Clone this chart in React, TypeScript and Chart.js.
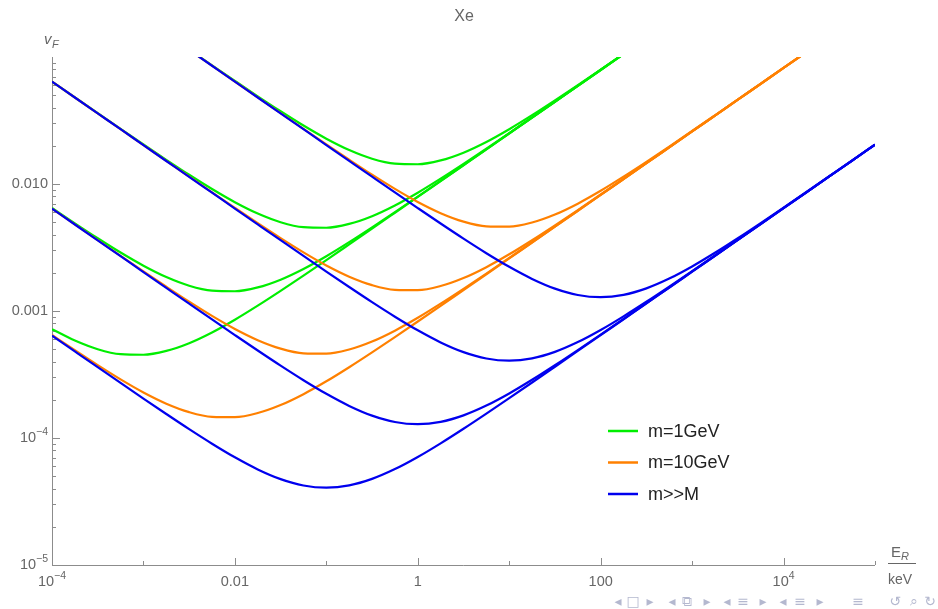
import React, { useEffect, useRef } from "react";
import { Chart, registerables } from "chart.js";

Chart.register(...registerables);

// Recoil energy E_R (keV), quarter-decade grid
const energies = [
  1e-4, 1.778e-4, 3.162e-4, 5.623e-4, 1e-3, 1.778e-3, 3.162e-3, 5.623e-3,
  0.01, 0.01778, 0.03162, 0.05623, 0.1, 0.1778, 0.3162, 0.5623,
  1, 1.778, 3.162, 5.623, 10, 17.78, 31.62, 56.23,
  100, 177.8, 316.2, 562.3, 1000, 1778, 3162, 5623,
  1e4, 1.778e4, 3.162e4, 5.623e4, 1e5,
];

const N3 = [null, null, null];
const N6 = [null, null, null, null, null, null];
const N11 = [null, null, null, null, null, null, null, null, null, null, null];

// m = 1 GeV
const green1 = [...N6, 0.1142, 0.08593, 0.0648, 0.04904, 0.0374, 0.02886, 0.02274, 0.01851, 0.01582, 0.01446, 0.0143, 0.01533, 0.01765, 0.02143, 0.02701, 0.03483, 0.04556, 0.06009, 0.07964, 0.1058, ...N11];
const green2 = [0.06408, 0.0481, 0.03613, 0.02718, 0.02049, 0.01551, 0.01182, 0.009126, 0.00719, 0.005853, 0.005004, 0.004572, 0.004522, 0.004849, 0.005581, 0.006778, 0.00854, 0.01102, 0.01441, 0.019, 0.02518, 0.03347, 0.04454, 0.05933, 0.07906, 0.1054, ...N11];
const green3 = [0.006479, 0.004904, 0.00374, 0.002886, 0.002274, 0.001851, 0.001582, 0.001446, 0.00143, 0.001533, 0.001765, 0.002143, 0.0027, 0.003483, 0.004556, 0.006009, 0.007964, 0.01058, 0.01409, 0.01876, 0.025, 0.03333, 0.04444, 0.05925, 0.07901, 0.1054, ...N11];
const green4 = [7.19e-4, 5.853e-4, 5.004e-4, 4.572e-4, 4.522e-4, 4.849e-4, 5.581e-4, 6.778e-4, 8.54e-4, 1.102e-3, 1.441e-3, 1.9e-3, 2.518e-3, 3.347e-3, 4.454e-3, 5.933e-3, 7.906e-3, 0.01054, 0.01405, 0.01873, 0.02498, 0.03331, 0.04443, 0.05924, 0.079, 0.1054, ...N11];

// m = 10 GeV
const orange1 = [...N6, 0.1138, 0.0854, 0.06408, 0.0481, 0.03614, 0.02718, 0.0205, 0.01553, 0.01184, 0.009149, 0.00722, 0.005893, 0.005057, 0.004644, 0.004617, 0.004976, 0.005749, 0.007003, 0.00884, 0.01142, 0.01494, 0.01972, 0.02613, 0.03473, 0.04623, 0.06158, 0.08206, 0.1094, ...N3];
const orange2 = [0.06401, 0.048, 0.036, 0.02701, 0.02027, 0.01521, 0.01143, 0.008595, 0.006482, 0.004908, 0.003745, 0.002893, 0.002283, 0.001864, 0.001599, 0.001468, 0.00146, 0.001573, 0.001818, 0.002214, 0.002795, 0.00361, 0.004725, 0.006234, 0.008264, 0.01098, 0.01462, 0.01947, 0.02595, 0.0346, 0.04613, 0.0615, 0.08201, 0.1094, ...N3];
const orange3 = [0.006408, 0.00481, 0.003614, 0.002718, 0.00205, 0.001553, 0.001184, 9.149e-4, 7.22e-4, 5.893e-4, 5.057e-4, 4.644e-4, 4.617e-4, 4.976e-4, 5.749e-4, 7.003e-4, 8.84e-4, 1.142e-3, 1.494e-3, 1.972e-3, 2.613e-3, 3.473e-3, 4.623e-3, 6.158e-3, 8.206e-3, 0.01094, 0.01459, 0.01945, 0.02593, 0.03458, 0.04611, 0.06149, 0.082, 0.1094, ...N3];
const orange4 = [6.482e-4, 4.908e-4, 3.745e-4, 2.893e-4, 2.283e-4, 1.864e-4, 1.599e-4, 1.468e-4, 1.46e-4, 1.573e-4, 1.818e-4, 2.214e-4, 2.795e-4, 3.61e-4, 4.725e-4, 6.234e-4, 8.264e-4, 1.098e-3, 1.462e-3, 1.947e-3, 2.595e-3, 3.46e-3, 4.613e-3, 6.15e-3, 8.201e-3, 0.01094, 0.01458, 0.01945, 0.02593, 0.03458, 0.04611, 0.06149, 0.082, 0.1094, ...N3];

// m >> M
const blue1 = [...N6, 0.1138, 0.08535, 0.06401, 0.048, 0.036, 0.02701, 0.02026, 0.01521, 0.01142, 0.008582, 0.006465, 0.004885, 0.003714, 0.002852, 0.002228, 0.00179, 0.001501, 0.001337, 0.001285, 0.00134, 0.001507, 0.001799, 0.002242, 0.002872, 0.003741, 0.004922, 0.006514, 0.008649, 0.01151, 0.01532, 0.02042];
const blue2 = [0.064, 0.04799, 0.03599, 0.027, 0.02024, 0.01518, 0.01138, 0.008539, 0.006406, 0.004808, 0.00361, 0.002714, 0.002044, 0.001545, 0.001174, 9.018e-4, 7.045e-4, 5.659e-4, 4.746e-4, 4.229e-4, 4.064e-4, 4.238e-4, 4.765e-4, 5.69e-4, 7.09e-4, 9.081e-4, 1.183e-3, 1.557e-3, 2.06e-3, 2.735e-3, 3.639e-3, 4.845e-3, 6.456e-3, 8.606e-3, 0.01147, 0.0153, 0.0204];
const blue3 = [0.006401, 0.0048, 0.0036, 0.002701, 0.002026, 0.001521, 0.001142, 8.582e-4, 6.465e-4, 4.885e-4, 3.714e-4, 2.852e-4, 2.228e-4, 1.79e-4, 1.501e-4, 1.337e-4, 1.285e-4, 1.34e-4, 1.507e-4, 1.799e-4, 2.242e-4, 2.872e-4, 3.741e-4, 4.922e-4, 6.514e-4, 8.649e-4, 1.151e-3, 1.532e-3, 2.042e-3, 2.722e-3, 3.628e-3, 4.838e-3, 6.451e-3, 8.601e-3, 0.01147, 0.0153, 0.0204];
const blue4 = [6.406e-4, 4.808e-4, 3.61e-4, 2.714e-4, 2.044e-4, 1.545e-4, 1.174e-4, 9.018e-5, 7.045e-5, 5.659e-5, 4.746e-5, 4.229e-5, 4.064e-5, 4.238e-5, 4.765e-5, 5.69e-5, 7.09e-5, 9.081e-5, 1.183e-4, 1.557e-4, 2.06e-4, 2.735e-4, 3.639e-4, 4.845e-4, 6.456e-4, 8.606e-4, 1.147e-3, 1.53e-3, 2.04e-3, 2.72e-3, 3.627e-3, 4.837e-3, 6.45e-3, 8.601e-3, 0.01147, 0.0153, 0.0204];

const legendLabels = ["m=1GeV", "m=10GeV", "m>>M"];
const seriesColors = ["#00ee00", "#ff8000", "#0000ee"];

// tick definitions
const yMajorTicks = [1e-5, 1e-4, 1e-3, 1e-2];
const yTickLabels: [string, string][] = [["10", "\u22125"], ["10", "\u22124"], ["0.001", ""], ["0.010", ""]];
const xLongTicks = [1e-4, 0.01, 1, 100, 1e4];
const xTickLabels: [string, string][] = [["10", "\u22124"], ["0.01", ""], ["1", ""], ["100", ""], ["10", "4"]];
const xShortTicks = [1e-3, 0.1, 10, 1000, 1e5];

const FONT = '"Liberation Sans", Arial, sans-serif';
const GRAY_TEXT = "#666666";
const AXIS = "#8c8c8c";

function drawLabel(ctx: CanvasRenderingContext2D, base: string, exp: string, x: number, y: number, align: "center" | "right") {
  ctx.font = `14.5px ${FONT}`;
  const w1 = ctx.measureText(base).width;
  ctx.font = `10.5px ${FONT}`;
  const w2 = exp ? ctx.measureText(exp).width : 0;
  const total = w1 + w2;
  const x0 = align === "center" ? x - total / 2 : x - total;
  ctx.textAlign = "left";
  ctx.textBaseline = "middle";
  ctx.fillStyle = GRAY_TEXT;
  ctx.font = `14.5px ${FONT}`;
  ctx.fillText(base, x0, y);
  if (exp) {
    ctx.font = `10.5px ${FONT}`;
    ctx.fillText(exp, x0 + w1, y - 6);
  }
}

const mmaPlugin = {
  id: "mmaDecor",
  beforeDatasetsDraw(chart: any) {
    const ctx: CanvasRenderingContext2D = chart.ctx;
    const { left, right, top, bottom } = chart.chartArea;
    const xs = chart.scales.x;
    const ys = chart.scales.y;
    ctx.save();
    ctx.strokeStyle = AXIS;
    ctx.lineWidth = 1;
    ctx.beginPath();
    ctx.moveTo(left + 0.5, top);
    ctx.lineTo(left + 0.5, bottom + 0.5);
    ctx.lineTo(right, bottom + 0.5);
    ctx.stroke();
    ctx.beginPath();
    // y ticks
    for (let d = -5; d <= -2; d++) {
      for (let k = 1; k <= 9; k++) {
        const v = k * Math.pow(10, d);
        const py = Math.round(ys.getPixelForValue(v)) + 0.5;
        if (py < top) continue;
        const len = k === 1 ? 8 : 4;
        ctx.moveTo(left, py);
        ctx.lineTo(left + len, py);
      }
    }
    for (const v of xLongTicks) {
      const px = Math.round(xs.getPixelForValue(v)) + 0.5;
      ctx.moveTo(px, bottom);
      ctx.lineTo(px, bottom - 7);
    }
    for (const v of xShortTicks) {
      const px = Math.round(xs.getPixelForValue(v)) + 0.5;
      ctx.moveTo(px, bottom);
      ctx.lineTo(px, bottom - 4);
    }
    ctx.stroke();
    ctx.restore();
  },
  afterDraw(chart: any) {
    const ctx: CanvasRenderingContext2D = chart.ctx;
    const { left, bottom } = chart.chartArea;
    const xs = chart.scales.x;
    const ys = chart.scales.y;
    ctx.save();
    // y tick labels
    yMajorTicks.forEach((v, i) => {
      const py = ys.getPixelForValue(v);
      drawLabel(ctx, yTickLabels[i][0], yTickLabels[i][1], left - 4, py, "right");
    });
    // x tick labels
    xLongTicks.forEach((v, i) => {
      const px = xs.getPixelForValue(v);
      drawLabel(ctx, xTickLabels[i][0], xTickLabels[i][1], px, bottom + 17, "center");
    });
    // title
    ctx.fillStyle = GRAY_TEXT;
    ctx.font = `16px ${FONT}`;
    ctx.textAlign = "center";
    ctx.textBaseline = "middle";
    ctx.fillText("Xe", 464, 17);
    // y axis label v_F
    ctx.textAlign = "left";
    ctx.textBaseline = "alphabetic";
    ctx.font = `italic 15px ${FONT}`;
    ctx.fillText("v", 44, 44);
    ctx.font = `italic 11px ${FONT}`;
    ctx.fillText("F", 52, 48);
    // x axis label E_R / keV
    ctx.font = `15px ${FONT}`;
    ctx.fillText("E", 891, 557);
    ctx.font = `italic 11px ${FONT}`;
    ctx.fillText("R", 901, 560);
    ctx.strokeStyle = GRAY_TEXT;
    ctx.lineWidth = 1;
    ctx.beginPath();
    ctx.moveTo(888, 563.5);
    ctx.lineTo(916, 563.5);
    ctx.stroke();
    ctx.font = `14px ${FONT}`;
    ctx.fillText("keV", 888, 584);
    // legend
    legendLabels.forEach((lab, i) => {
      const y = 431 + i * 31.5;
      ctx.strokeStyle = seriesColors[i];
      ctx.lineWidth = 2.5;
      ctx.beginPath();
      ctx.moveTo(608, y);
      ctx.lineTo(638, y);
      ctx.stroke();
      ctx.fillStyle = "#222222";
      ctx.font = `18px ${FONT}`;
      ctx.textBaseline = "middle";
      ctx.fillText(lab, 648, y + 1);
    });
    // navigation symbols
    ctx.fillStyle = "#b4b8cf";
    ctx.font = `14px "DejaVu Sans", sans-serif`;
    ctx.textAlign = "center";
    ctx.textBaseline = "middle";
    const nav: [string, number][] = [
      ["\u25C2", 618], ["\u25A1", 633], ["\u25B8", 650],
      ["\u25C2", 672], ["\u29C9", 687], ["\u25B8", 707],
      ["\u25C2", 727], ["\u2261", 743], ["\u25B8", 763],
      ["\u25C2", 783], ["\u2261", 800], ["\u25B8", 820],
      ["\u2261", 858], ["\u21BA", 895], ["\u2315", 914], ["\u21BB", 930],
    ];
    nav.forEach(([s, x]) => ctx.fillText(s, x, 602));
    ctx.restore();
  },
};

const groups = [
  { color: seriesColors[0], order: 3, series: [green1, green2, green3, green4] },
  { color: seriesColors[1], order: 2, series: [orange1, orange2, orange3, orange4] },
  { color: seriesColors[2], order: 1, series: [blue1, blue2, blue3, blue4] },
];

export default function App() {
  const ref = useRef<HTMLCanvasElement>(null);
  useEffect(() => {
    const datasets: any[] = [];
    groups.forEach((g, gi) => {
      g.series.forEach((s, si) => {
        datasets.push({
          label: `${legendLabels[gi]} ${si + 1}`,
          data: energies.map((x, i) => ({ x, y: s[i] })),
          borderColor: g.color,
          borderWidth: 2.2,
          pointRadius: 0,
          fill: false,
          cubicInterpolationMode: "monotone",
          order: g.order,
        });
      });
    });
    const chart = new Chart(ref.current!, {
      type: "line",
      data: { datasets },
      options: {
        responsive: false,
        animation: false,
        devicePixelRatio: 1,
        layout: { padding: { left: 52, right: 63, top: 57, bottom: 44 } },
        plugins: { legend: { display: false }, title: { display: false }, tooltip: { enabled: false } },
        scales: {
          x: { type: "logarithmic", min: 1e-4, max: 1e5, display: false },
          y: { type: "logarithmic", min: 1e-5, max: 0.1, display: false },
        },
      },
      plugins: [mmaPlugin],
    } as any);
    return () => chart.destroy();
  }, []);
  return (
    <div style={{ position: "fixed", left: 0, top: 0, width: 938, height: 609, background: "#fff" }}>
      <canvas ref={ref} width={938} height={609} style={{ display: "block", width: 938, height: 609 }} />
    </div>
  );
}
